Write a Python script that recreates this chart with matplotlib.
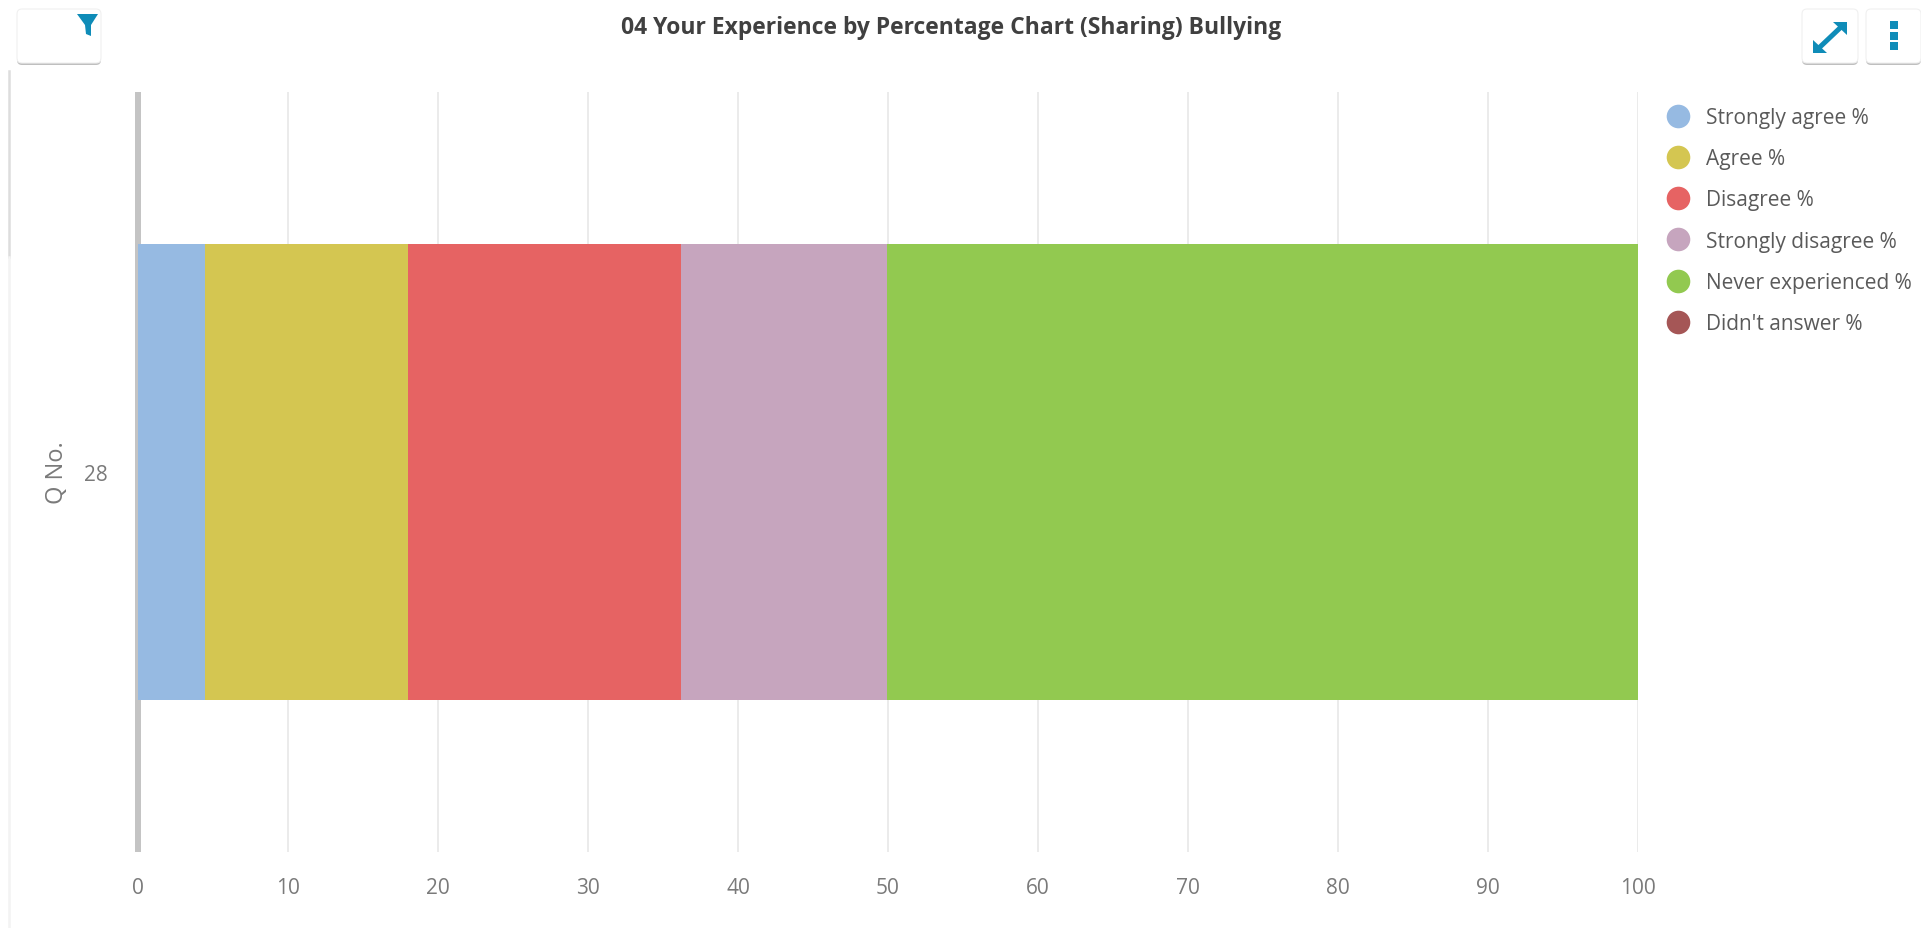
import matplotlib
matplotlib.use("Agg")
from matplotlib import pyplot as plt
from matplotlib.lines import Line2D
from matplotlib.patches import FancyBboxPatch, Polygon, Rectangle

W, H = 1921, 929

# Values
questions = ["28"]
series_names = ["Strongly agree %", "Agree %", "Disagree %",
                "Strongly disagree %", "Never experienced %", "Didn't answer %"]
series_values = [4.45, 13.55, 18.2, 13.7, 50.1, 0.0]
series_colors = ["#96bae2", "#d4c651", "#e66363", "#c6a5be", "#92c950", "#a55656"]
x_ticks = list(range(0, 101, 10))

ICON = "#0f8cb8"

plt.rcParams["font.family"] = ["Open Sans", "DejaVu Sans"]

fig = plt.figure(figsize=(W / 100, H / 100), dpi=100)

# pixel overlay for the dashboard buttons and icons
ui = fig.add_axes([0, 0, 1, 1])
ui.set_xlim(0, W)
ui.set_ylim(H, 0)
ui.axis("off")

ax = fig.add_axes([138 / W, 1 - 853 / H, 1500 / W, 760 / H])

left = 0
for name, value, color in zip(series_names, series_values, series_colors):
    ax.barh(questions, value, left=left, height=0.6, color=color, zorder=3)
    left += value

ax.set_xlim(0, 100)
ax.set_ylim(-0.5, 0.5)
ax.set_xticks(x_ticks)
ax.grid(axis="x", color="#e6e6e6", linewidth=1.1, zorder=0)
ax.tick_params(axis="both", length=0, labelsize=15, labelcolor="#7a7a7a")
ax.tick_params(axis="x", pad=18)
ax.tick_params(axis="y", pad=22)
ax.set_ylabel("Q No.", fontsize=17, color="#7a7a7a", labelpad=10.5)

for side in ["top", "right", "bottom"]:
    ax.spines[side].set_visible(False)
ax.spines["left"].set_color("#c4c4c4")
ax.spines["left"].set_linewidth(4.3)
ax.spines["left"].set_capstyle("butt")

handles = [Line2D([], [], linestyle="none", marker="o", markersize=17,
                  markerfacecolor=c, markeredgecolor="none") for c in series_colors]
fig.legend(handles, series_names, loc="upper left",
           bbox_to_anchor=(1659 / W, 1 - 108 / H), frameon=False,
           fontsize=15, labelcolor="#5a5a5a", labelspacing=0.97,
           handletextpad=0.45, borderpad=0, borderaxespad=0, handlelength=1.8)

fig.text(951 / W, 1 - 28 / H, "04 Your Experience by Percentage Chart (Sharing) Bullying",
         ha="center", va="center", fontsize=16.5, fontweight="bold",
         color="#404040")

# left edge of the panel
ui.plot([8.5, 8.5], [72, 258], color="#dddddd", lw=1.8)
ui.plot([8.5, 8.5], [258, 929], color="#f3f3f3", lw=1.8)

# buttons
for x0, x1 in [(17, 101), (1802, 1858), (1866, 1921)]:
    ui.add_patch(FancyBboxPatch((x0, 12), x1 - x0, 54,
                                boxstyle="round,pad=0,rounding_size=5",
                                fc="#b0b0b0", ec="none", alpha=0.8))
    ui.add_patch(FancyBboxPatch((x0, 10), x1 - x0, 54,
                                boxstyle="round,pad=0,rounding_size=5",
                                fc="white", ec="#f0f0f0", lw=0.8))

# filter icon
ui.add_patch(Polygon([(77, 15), (98, 15), (91, 26), (91, 37), (86, 35), (85, 26)],
                     fc=ICON, ec="none"))

# expand icon
ui.plot([1821, 1840], [47, 29], color=ICON, lw=3.6)
ui.add_patch(Polygon([(1813, 54), (1813, 41), (1827, 54)], fc=ICON, ec="none"))
ui.add_patch(Polygon([(1847, 23), (1847, 36), (1833, 23)], fc=ICON, ec="none"))

# three dots
for yc in [26, 37, 47]:
    ui.add_patch(Rectangle((1890, yc - 4), 8, 8, fc=ICON, ec="none"))

fig.savefig("out.png", dpi=100)
